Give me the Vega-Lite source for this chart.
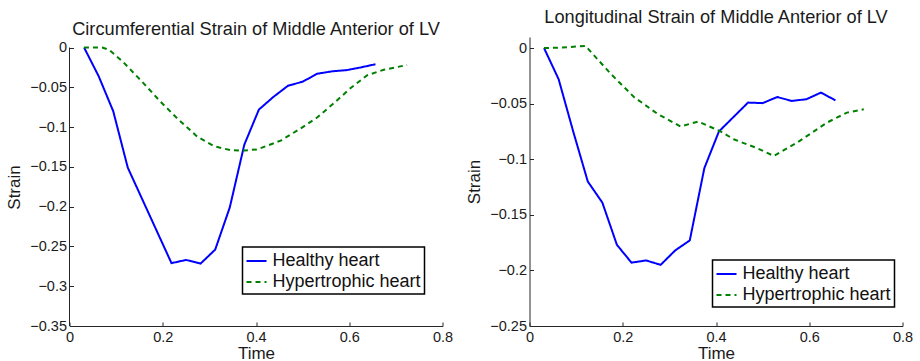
{
  "$schema": "https://vega.github.io/schema/vega-lite/v6.json",
  "background": "white",
  "padding": {"left": 4.5, "top": 7, "right": 5, "bottom": 0},
  "datasets": {
    "circ": [
      {"series": "Healthy heart", "t": 0.03125, "s": 0},
      {"series": "Healthy heart", "t": 0.0625, "s": -0.036},
      {"series": "Healthy heart", "t": 0.09375, "s": -0.080},
      {"series": "Healthy heart", "t": 0.125, "s": -0.151},
      {"series": "Healthy heart", "t": 0.15625, "s": -0.191},
      {"series": "Healthy heart", "t": 0.1875, "s": -0.231},
      {"series": "Healthy heart", "t": 0.21875, "s": -0.271},
      {"series": "Healthy heart", "t": 0.25, "s": -0.267},
      {"series": "Healthy heart", "t": 0.28125, "s": -0.2715},
      {"series": "Healthy heart", "t": 0.3125, "s": -0.254},
      {"series": "Healthy heart", "t": 0.34375, "s": -0.201},
      {"series": "Healthy heart", "t": 0.375, "s": -0.122},
      {"series": "Healthy heart", "t": 0.40625, "s": -0.078},
      {"series": "Healthy heart", "t": 0.4375, "s": -0.062},
      {"series": "Healthy heart", "t": 0.46875, "s": -0.048},
      {"series": "Healthy heart", "t": 0.5, "s": -0.043},
      {"series": "Healthy heart", "t": 0.53125, "s": -0.033},
      {"series": "Healthy heart", "t": 0.5625, "s": -0.030},
      {"series": "Healthy heart", "t": 0.59375, "s": -0.0285},
      {"series": "Healthy heart", "t": 0.625, "s": -0.025},
      {"series": "Healthy heart", "t": 0.65625, "s": -0.021},
      {"series": "Hypertrophic heart", "t": 0.031, "s": 0},
      {"series": "Hypertrophic heart", "t": 0.07, "s": 0},
      {"series": "Hypertrophic heart", "t": 0.085, "s": -0.003},
      {"series": "Hypertrophic heart", "t": 0.113, "s": -0.017},
      {"series": "Hypertrophic heart", "t": 0.159, "s": -0.045},
      {"series": "Hypertrophic heart", "t": 0.195, "s": -0.068},
      {"series": "Hypertrophic heart", "t": 0.231, "s": -0.089},
      {"series": "Hypertrophic heart", "t": 0.274, "s": -0.112},
      {"series": "Hypertrophic heart", "t": 0.31, "s": -0.124},
      {"series": "Hypertrophic heart", "t": 0.345, "s": -0.129},
      {"series": "Hypertrophic heart", "t": 0.375, "s": -0.1295},
      {"series": "Hypertrophic heart", "t": 0.403, "s": -0.128},
      {"series": "Hypertrophic heart", "t": 0.453, "s": -0.117},
      {"series": "Hypertrophic heart", "t": 0.495, "s": -0.102},
      {"series": "Hypertrophic heart", "t": 0.531, "s": -0.088},
      {"series": "Hypertrophic heart", "t": 0.567, "s": -0.070},
      {"series": "Hypertrophic heart", "t": 0.603, "s": -0.051},
      {"series": "Hypertrophic heart", "t": 0.638, "s": -0.035},
      {"series": "Hypertrophic heart", "t": 0.674, "s": -0.028},
      {"series": "Hypertrophic heart", "t": 0.724, "s": -0.022}
    ],
    "long": [
      {"series": "Healthy heart", "t": 0.03125, "s": 0},
      {"series": "Healthy heart", "t": 0.0625, "s": -0.028},
      {"series": "Healthy heart", "t": 0.09375, "s": -0.075},
      {"series": "Healthy heart", "t": 0.125, "s": -0.120},
      {"series": "Healthy heart", "t": 0.15625, "s": -0.139},
      {"series": "Healthy heart", "t": 0.1875, "s": -0.177},
      {"series": "Healthy heart", "t": 0.21875, "s": -0.193},
      {"series": "Healthy heart", "t": 0.25, "s": -0.191},
      {"series": "Healthy heart", "t": 0.28125, "s": -0.195},
      {"series": "Healthy heart", "t": 0.3125, "s": -0.182},
      {"series": "Healthy heart", "t": 0.34375, "s": -0.173},
      {"series": "Healthy heart", "t": 0.375, "s": -0.108},
      {"series": "Healthy heart", "t": 0.40625, "s": -0.075},
      {"series": "Healthy heart", "t": 0.4375, "s": -0.062},
      {"series": "Healthy heart", "t": 0.46875, "s": -0.049},
      {"series": "Healthy heart", "t": 0.5, "s": -0.0495},
      {"series": "Healthy heart", "t": 0.53125, "s": -0.044},
      {"series": "Healthy heart", "t": 0.5625, "s": -0.0475},
      {"series": "Healthy heart", "t": 0.59375, "s": -0.046},
      {"series": "Healthy heart", "t": 0.625, "s": -0.040},
      {"series": "Healthy heart", "t": 0.65625, "s": -0.047},
      {"series": "Hypertrophic heart", "t": 0.031, "s": 0},
      {"series": "Hypertrophic heart", "t": 0.07, "s": 0.0005},
      {"series": "Hypertrophic heart", "t": 0.12, "s": 0.002},
      {"series": "Hypertrophic heart", "t": 0.174, "s": -0.023},
      {"series": "Hypertrophic heart", "t": 0.224, "s": -0.044},
      {"series": "Hypertrophic heart", "t": 0.274, "s": -0.059},
      {"series": "Hypertrophic heart", "t": 0.324, "s": -0.0705},
      {"series": "Hypertrophic heart", "t": 0.362, "s": -0.066},
      {"series": "Hypertrophic heart", "t": 0.41, "s": -0.075},
      {"series": "Hypertrophic heart", "t": 0.438, "s": -0.082},
      {"series": "Hypertrophic heart", "t": 0.488, "s": -0.090},
      {"series": "Hypertrophic heart", "t": 0.524, "s": -0.097},
      {"series": "Hypertrophic heart", "t": 0.574, "s": -0.085},
      {"series": "Hypertrophic heart", "t": 0.638, "s": -0.067},
      {"series": "Hypertrophic heart", "t": 0.681, "s": -0.058},
      {"series": "Hypertrophic heart", "t": 0.717, "s": -0.055}
    ]
  },
  "bounds": "flush",
  "spacing": 87,
  "resolve": {"legend": {"color": "independent", "strokeDash": "independent"}},
  "hconcat": [
    {
      "width": 373,
      "height": 289,
      "title": {"text": "Circumferential Strain of Middle Anterior of LV", "offset": -2},
      "layer": [
        {
          "data": {"name": "circ"},
          "mark": {"type": "line", "strokeWidth": 2},
          "encoding": {
            "x": {"field": "t", "type": "quantitative",
                  "scale": {"domain": [0, 0.8], "nice": false, "zero": false},
                  "axis": {"values": [0, 0.2, 0.4, 0.6, 0.8], "format": ".1~f", "title": "Time", "titleY": 27, "titleBaseline": "middle", "labelPadding": 8.5}},
            "y": {"field": "s", "type": "quantitative",
                  "scale": {"domain": [-0.35, 0.0132], "nice": false, "zero": false},
                  "axis": {"values": [0, -0.05, -0.1, -0.15, -0.2, -0.25, -0.3, -0.35], "format": ".2~f", "labelExpr": "replace(datum.label, '-', '\u2212')", "title": "Strain", "domain": false, "titleX": -55.5, "titleY": 150, "titleAngle": 270, "titleBaseline": "middle", "titleAlign": "center", "labelPadding": 7}},
            "color": {"field": "series", "type": "nominal",
                      "scale": {"domain": ["Healthy heart", "Hypertrophic heart"], "range": ["#0000ff", "#008000"]},
                      "legend": {"title": null, "orient": "none", "legendX": 173, "legendY": 210}},
            "strokeDash": {"field": "series", "type": "nominal",
                      "scale": {"domain": ["Healthy heart", "Hypertrophic heart"], "range": [[1, 0], [5, 4]]},
                      "legend": {"title": null, "orient": "none", "legendX": 173, "legendY": 210}}
          }
        },
        {
          "data": {"values": [{}]},
          "mark": {"type": "rule", "color": "#262626", "strokeWidth": 1},
          "encoding": {
            "x": {"datum": 0, "type": "quantitative",
                  "axis": {"values": [0, 0.2, 0.4, 0.6, 0.8], "format": ".1~f", "title": "Time", "titleY": 27, "titleBaseline": "middle", "labelPadding": 8.5}},
            "y": {"datum": 0, "type": "quantitative",
                  "axis": {"values": [0, -0.05, -0.1, -0.15, -0.2, -0.25, -0.3, -0.35], "format": ".2~f", "labelExpr": "replace(datum.label, '-', '\u2212')", "title": "Strain", "domain": false, "titleX": -55.5, "titleY": 150, "titleAngle": 270, "titleBaseline": "middle", "titleAlign": "center", "labelPadding": 7}},
            "y2": {"datum": -0.35}
          }
        }
      ]
    },
    {
      "width": 373,
      "height": 289,
      "title": {"text": "Longitudinal Strain of Middle Anterior of LV", "offset": 10},
      "data": {"name": "long"},
      "mark": {"type": "line", "strokeWidth": 2},
      "encoding": {
        "x": {"field": "t", "type": "quantitative",
              "scale": {"domain": [0, 0.8], "nice": false, "zero": false},
              "axis": {"values": [0, 0.2, 0.4, 0.6, 0.8], "format": ".1~f", "title": "Time", "titleY": 27, "titleBaseline": "middle", "labelPadding": 8.5}},
        "y": {"field": "s", "type": "quantitative",
              "scale": {"domain": [-0.25, 0.01], "nice": false, "zero": false},
              "axis": {"values": [0, -0.05, -0.1, -0.15, -0.2, -0.25], "format": ".2~f", "labelExpr": "replace(datum.label, '-', '\u2212')", "title": "Strain", "titleX": -55.5, "titleY": 144.5, "titleAngle": 270, "titleBaseline": "middle", "titleAlign": "center", "labelPadding": 7}},
        "color": {"field": "series", "type": "nominal",
                  "scale": {"domain": ["Healthy heart", "Hypertrophic heart"], "range": ["#0000ff", "#008000"]},
                  "legend": {"title": null, "orient": "none", "legendX": 183, "legendY": 223}},
        "strokeDash": {"field": "series", "type": "nominal",
                  "scale": {"domain": ["Healthy heart", "Hypertrophic heart"], "range": [[1, 0], [5, 4]]},
                  "legend": {"title": null, "orient": "none", "legendX": 183, "legendY": 223}}
      }
    }
  ],
  "config": {
    "font": "Liberation Sans",
    "view": {"stroke": null},
    "axis": {
      "grid": false,
      "domainColor": "#262626",
      "tickColor": "#262626",
      "labelColor": "#1a1a1a",
      "titleColor": "#1a1a1a",
      "labelFont": "Liberation Sans",
      "titleFont": "Liberation Sans",
      "labelFontSize": 14.5,
      "titleFontSize": 17,
      "titleFontWeight": "normal",
      "tickSize": -4,
      "labelFlush": false,
      "labelOverlap": false,
      "domainWidth": 1,
      "tickWidth": 1
    },
    "title": {"font": "Liberation Sans", "fontSize": 18.2, "fontWeight": "normal", "color": "#1a1a1a", "anchor": "middle"},
    "legend": {
      "strokeColor": "#000000",
      "strokeWidth": 1.5,
      "fillColor": "#ffffff",
      "padding": 3,
      "rowPadding": 1,
      "symbolType": "stroke",
      "symbolSize": 400,
      "symbolStrokeWidth": 2,
      "labelFont": "Liberation Sans",
      "labelFontSize": 18,
      "labelColor": "#111111",
      "labelOffset": 5,
      "labelLimit": 400
    }
  }
}
